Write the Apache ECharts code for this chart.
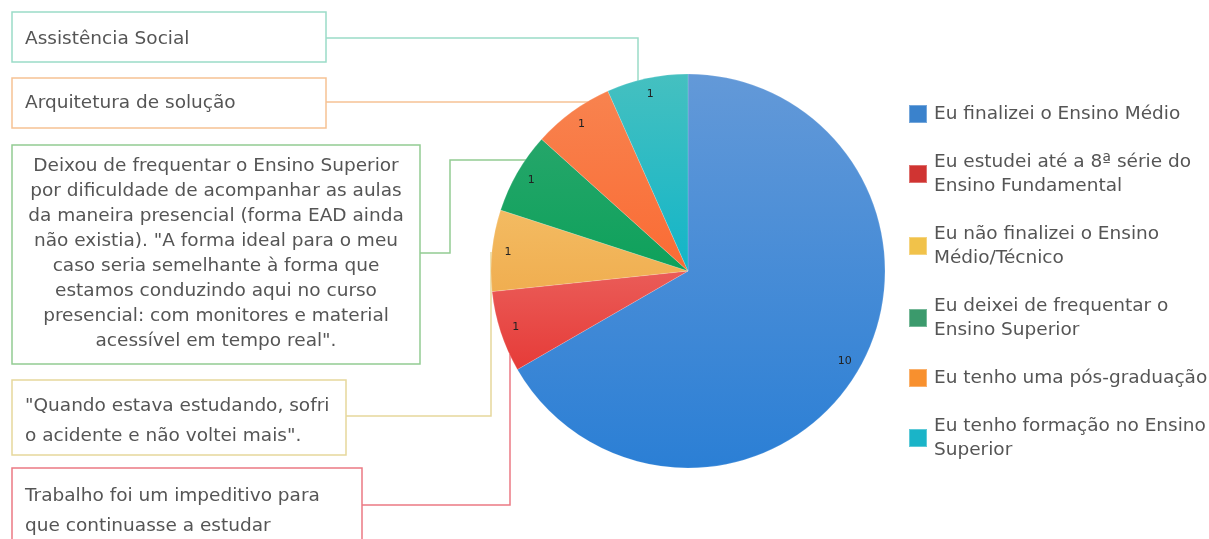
<!DOCTYPE html>
<html>
<head>
<meta charset="utf-8">
<script src="https://cdn.jsdelivr.net/npm/echarts@6/dist/echarts.min.js"></script>
<style>
  html, body { margin: 0; padding: 0; background: #fff; }
  #chart { width: 1209px; height: 539px; }
</style>
</head>
<body>
<div id="chart"></div>
<script>
// categorias e valores do gráfico
var categories = [
  'Eu finalizei o Ensino Médio',
  'Eu estudei até a 8ª série do\nEnsino Fundamental',
  'Eu não finalizei o Ensino\nMédio/Técnico',
  'Eu deixei de frequentar o\nEnsino Superior',
  'Eu tenho uma pós-graduação',
  'Eu tenho formação no Ensino\nSuperior'
];
var values = [10, 1, 1, 1, 1, 1];

// comentários (caixas à esquerda)
var notes = [
  'Assistência Social',
  'Arquitetura de solução',
  'Deixou de frequentar o Ensino Superior\npor dificuldade de acompanhar as aulas\nda maneira presencial (forma EAD ainda\nnão existia). "A forma ideal para o meu\ncaso seria semelhante à forma que\nestamos conduzindo aqui no curso\npresencial: com monitores e material\nacessível em tempo real".',
  '"Quando estava estudando, sofri\no acidente e não voltei mais".',
  'Trabalho foi um impeditivo para\nque continuasse a estudar'
];

// cores
var sliceTop = ['#6399d8', '#ea5c58', '#f3bb62', '#25a66a', '#f8834f', '#45c0c0'];
var sliceBottom = ['#2b7fd5', '#e63b38', '#f0ae50', '#0ea15b', '#fa6b34', '#12b5c8'];
var legendColors = ['#3a82cc', '#d03432', '#f1c24a', '#3b9a6c', '#f8902e', '#1ab4c8'];
var noteColors = ['#9adcc8', '#f6c294', '#93cc93', '#e6d89c', '#ec7a84'];

var font = '"DejaVu Sans", sans-serif';

var myChart = echarts.init(document.getElementById('chart'));

var pieData = categories.map(function (name, i) {
  return {
    name: name,
    value: values[i],
    itemStyle: {
      color: {
        type: 'linear', x: 0, y: 0, x2: 0, y2: 1,
        colorStops: [
          { offset: 0, color: sliceTop[i] },
          { offset: 1, color: sliceBottom[i] }
        ]
      }
    }
  };
});

var labelData = categories.map(function (name, i) {
  return { name: name, value: values[i] };
});

// caixas de comentário + linhas de ligação
var boxes = [
  { x: 12, y: 12, w: 314, h: 50, align: 'left', ty: 24 },
  { x: 12, y: 78, w: 314, h: 50, align: 'left', ty: 88 },
  { x: 12, y: 145, w: 408, h: 219, align: 'center', ty: 154 },
  { x: 12, y: 380, w: 334, h: 75, align: 'left', ty: 391 },
  { x: 12, y: 468, w: 350, h: 90, align: 'left', ty: 481 }
];
var links = [
  [[326, 38], [638, 38], [638, 81]],
  [[326, 102], [588, 102]],
  [[420, 253], [450, 253], [450, 160], [526, 160]],
  [[346, 416], [491, 416], [491, 252]],
  [[362, 505], [510, 505], [510, 354]]
];

var graphics = [];
links.forEach(function (pts, i) {
  graphics.push({
    type: 'polyline',
    z: 0,
    shape: { points: pts },
    style: { stroke: noteColors[i], lineWidth: 1.5, fill: null }
  });
});
boxes.forEach(function (b, i) {
  graphics.push({
    type: 'rect',
    z: 1,
    shape: { x: b.x, y: b.y, width: b.w, height: b.h },
    style: { fill: '#fff', stroke: noteColors[i], lineWidth: 1.5 }
  });
  graphics.push({
    type: 'text',
    z: 2,
    x: b.align === 'center' ? b.x + b.w / 2 : b.x + 13,
    y: b.ty,
    style: {
      text: notes[i],
      font: '18.5px ' + font,
      fill: '#555',
      align: b.align,
      verticalAlign: 'top',
      lineHeight: i === 2 ? 25 : 30
    }
  });
});

var option = {
  animation: false,
  backgroundColor: '#fff',
  legend: {
    orient: 'vertical',
    left: 903,
    top: 97,
    itemWidth: 18,
    itemHeight: 18,
    itemGap: 24,
    icon: 'rect',
    textStyle: {
      fontSize: 18.5, fontFamily: font, color: '#555', lineHeight: 24,
      padding: [0, 0, 0, 2]
    },
    data: categories.map(function (name, i) {
      return { name: name, itemStyle: { color: legendColors[i] } };
    })
  },
  graphic: graphics,
  series: [
    {
      type: 'pie',
      center: [688, 271],
      radius: 197,
      startAngle: 90,
      clockwise: true,
      z: 3,
      label: { show: false },
      labelLine: { show: false },
      itemStyle: { borderColor: 'rgba(255,255,255,0.3)', borderWidth: 0.5 },
      emphasis: { disabled: true },
      data: pieData
    },
    {
      // anel transparente só para posicionar os rótulos perto da borda
      type: 'pie',
      center: [688, 271],
      radius: [160, 196],
      startAngle: 90,
      clockwise: true,
      z: 4,
      silent: true,
      legendHoverLink: false,
      itemStyle: { color: 'rgba(0,0,0,0)' },
      label: {
        show: true,
        position: 'inside',
        formatter: '{c}',
        fontSize: 11,
        fontFamily: font,
        color: '#222'
      },
      labelLine: { show: false },
      emphasis: { disabled: true },
      data: labelData
    }
  ]
};

myChart.setOption(option);
</script>
</body>
</html>
